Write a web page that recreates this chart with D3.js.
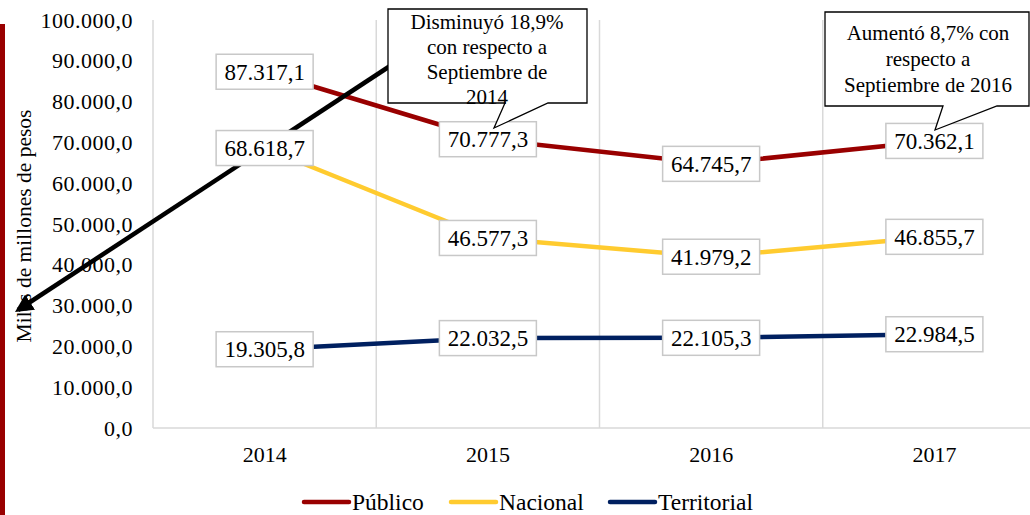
<!DOCTYPE html>
<html>
<head>
<meta charset="utf-8">
<script src="https://cdn.jsdelivr.net/npm/d3@7"></script>
<style>
  html, body { margin: 0; padding: 0; background: #fff; }
  svg { display: block; }
  svg text { font-family: "Liberation Serif", "Times New Roman", Tinos, Times, "DejaVu Serif", serif !important; }
</style>
</head>
<body>
<svg id="chart" width="1030" height="515"></svg>
<script>
const years = ["2014", "2015", "2016", "2017"];
const publico = [87317.1, 70777.3, 64745.7, 70362.1];
const nacional = [68618.7, 46577.3, 41979.2, 46855.7];
const territorial = [19305.8, 22032.5, 22105.3, 22984.5];
const seriesNames = ["Público", "Nacional", "Territorial"];
const seriesColors = ["#990000", "#FFCB2F", "#002060"];
const yTicks = [0, 10000, 20000, 30000, 40000, 50000, 60000, 70000, 80000, 90000, 100000];
const yTitle = "Miles de millones de pesos";
const callout1 = ["Disminuyó  18,9%", "con respecto a", "Septiembre  de", "2014"];
const callout2 = ["Aumentó 8,7%  con", "respecto a", "Septiembre  de 2016"];

const svg = d3.select("#chart");
const W = 1030, H = 515;
const plot = { left: 153, right: 1046, top: 20, bottom: 428 };

const locale = d3.formatLocale({ decimal: ",", thousands: ".", grouping: [3], currency: ["$", ""] });
const fmt = locale.format(",.1f");

const x = d3.scaleBand().domain(years).range([plot.left, plot.right]).padding(0);
const y = d3.scaleLinear().domain([0, 100000]).range([plot.bottom, plot.top]);
const cx = d => x(d) + x.bandwidth() / 2;

// left red bar
svg.append("rect").attr("x", 0).attr("y", 24).attr("width", 5).attr("height", H - 24).attr("fill", "#990000");

// vertical gridlines at category boundaries
const grid = svg.append("g");
years.forEach(yr => {
  grid.append("line")
    .attr("x1", x(yr)).attr("x2", x(yr))
    .attr("y1", plot.top).attr("y2", plot.bottom)
    .attr("stroke", "#d9d9d9").attr("stroke-width", 1.5);
});
grid.append("line")
  .attr("x1", plot.right).attr("x2", plot.right)
  .attr("y1", plot.top).attr("y2", plot.bottom)
  .attr("stroke", "#d9d9d9").attr("stroke-width", 1.5);
grid.append("line")
  .attr("x1", plot.left).attr("x2", plot.right)
  .attr("y1", plot.bottom).attr("y2", plot.bottom)
  .attr("stroke", "#d9d9d9").attr("stroke-width", 1.5);

// y axis
const yAxis = d3.axisLeft(y).tickValues(yTicks).tickFormat(fmt).tickSize(0).tickPadding(20);
const yg = svg.append("g").attr("transform", `translate(${plot.left},0)`).call(yAxis);
yg.attr("font-family", null);
yg.select(".domain").remove();
yg.selectAll("text").attr("font-size", 22).attr("fill", "#000").attr("letter-spacing", "0.5px");

// x axis
const xAxis = d3.axisBottom(x).tickSize(0).tickPadding(18);
const xg = svg.append("g").attr("transform", `translate(0,${plot.bottom})`).call(xAxis);
xg.attr("font-family", null);
xg.select(".domain").remove();
xg.selectAll("text").attr("font-size", 22).attr("fill", "#000");

// y title
svg.append("text")
  .attr("transform", "translate(31,226) rotate(-90)")
  .attr("text-anchor", "middle")
  .attr("font-size", 21.5)
  .attr("fill", "#000")
  .text(yTitle);

// lines
const allSeries = [publico, nacional, territorial];
const line = d3.line().x((d, i) => cx(years[i])).y(d => y(d));
allSeries.forEach((s, k) => {
  svg.append("path").datum(s)
    .attr("d", line)
    .attr("fill", "none")
    .attr("stroke", seriesColors[k])
    .attr("stroke-width", 4.5)
    .attr("stroke-linejoin", "round");
});

// arrow
const defs = svg.append("defs");
defs.append("marker")
  .attr("id", "arrowhead")
  .attr("viewBox", "0 0 10 10")
  .attr("refX", 8).attr("refY", 5)
  .attr("markerWidth", 4).attr("markerHeight", 4)
  .attr("orient", "auto")
  .append("path").attr("d", "M0,0 L10,5 L0,10 Z").attr("fill", "#000");
svg.append("line")
  .attr("x1", 390).attr("y1", 66)
  .attr("x2", 18).attr("y2", 310)
  .attr("stroke", "#000").attr("stroke-width", 4.5)
  .attr("marker-end", "url(#arrowhead)");

// data labels
const labels = svg.append("g");
allSeries.forEach(s => {
  s.forEach((v, i) => {
    const g = labels.append("g").attr("transform", `translate(${cx(years[i])},${y(v)})`);
    g.append("rect")
      .attr("x", -48.5).attr("y", -17.5).attr("width", 97).attr("height", 35)
      .attr("fill", "#fff").attr("stroke", "#c8c8c8").attr("stroke-width", 1.5);
    g.append("text")
      .attr("text-anchor", "middle").attr("dy", "0.35em")
      .attr("font-size", 23).attr("fill", "#000")
      .text(fmt(v));
  });
});

// callouts
function callout(box, tip, base1, base2, lines, textX, textY0, lh) {
  const p = d3.path();
  p.moveTo(box.x0, box.y0);
  p.lineTo(box.x1, box.y0);
  p.lineTo(box.x1, box.y1);
  p.lineTo(base2, box.y1);
  p.lineTo(tip[0], tip[1]);
  p.lineTo(base1, box.y1);
  p.lineTo(box.x0, box.y1);
  p.closePath();
  svg.append("path").attr("d", p.toString())
    .attr("fill", "#fff").attr("stroke", "#000").attr("stroke-width", 1.3);
  const t = svg.append("text").attr("text-anchor", "middle").attr("font-size", 21).attr("fill", "#000");
  lines.forEach((ln, i) => {
    t.append("tspan").attr("x", textX).attr("y", textY0 + i * lh).attr("dy", "0.35em").text(ln);
  });
}
callout({ x0: 388, y0: 9, x1: 587, y1: 103 }, [494, 128], 505, 548, callout1, 487, 22, 25);
callout({ x0: 825, y0: 12, x1: 1029, y1: 106 }, [935, 130], 943, 997, callout2, 928, 33, 26);

// legend
const legend = svg.append("g");
const legendX = [304, 451, 610];
seriesNames.forEach((n, k) => {
  const lx = legendX[k];
  legend.append("line")
    .attr("x1", lx).attr("x2", lx + 45).attr("y1", 502).attr("y2", 502)
    .attr("stroke", seriesColors[k]).attr("stroke-width", 4.5).attr("stroke-linecap", "round");
  legend.append("text")
    .attr("x", lx + 48).attr("y", 502).attr("dy", "0.35em")
    .attr("font-size", 23.5).attr("fill", "#000")
    .text(n);
});
</script>
</body>
</html>
